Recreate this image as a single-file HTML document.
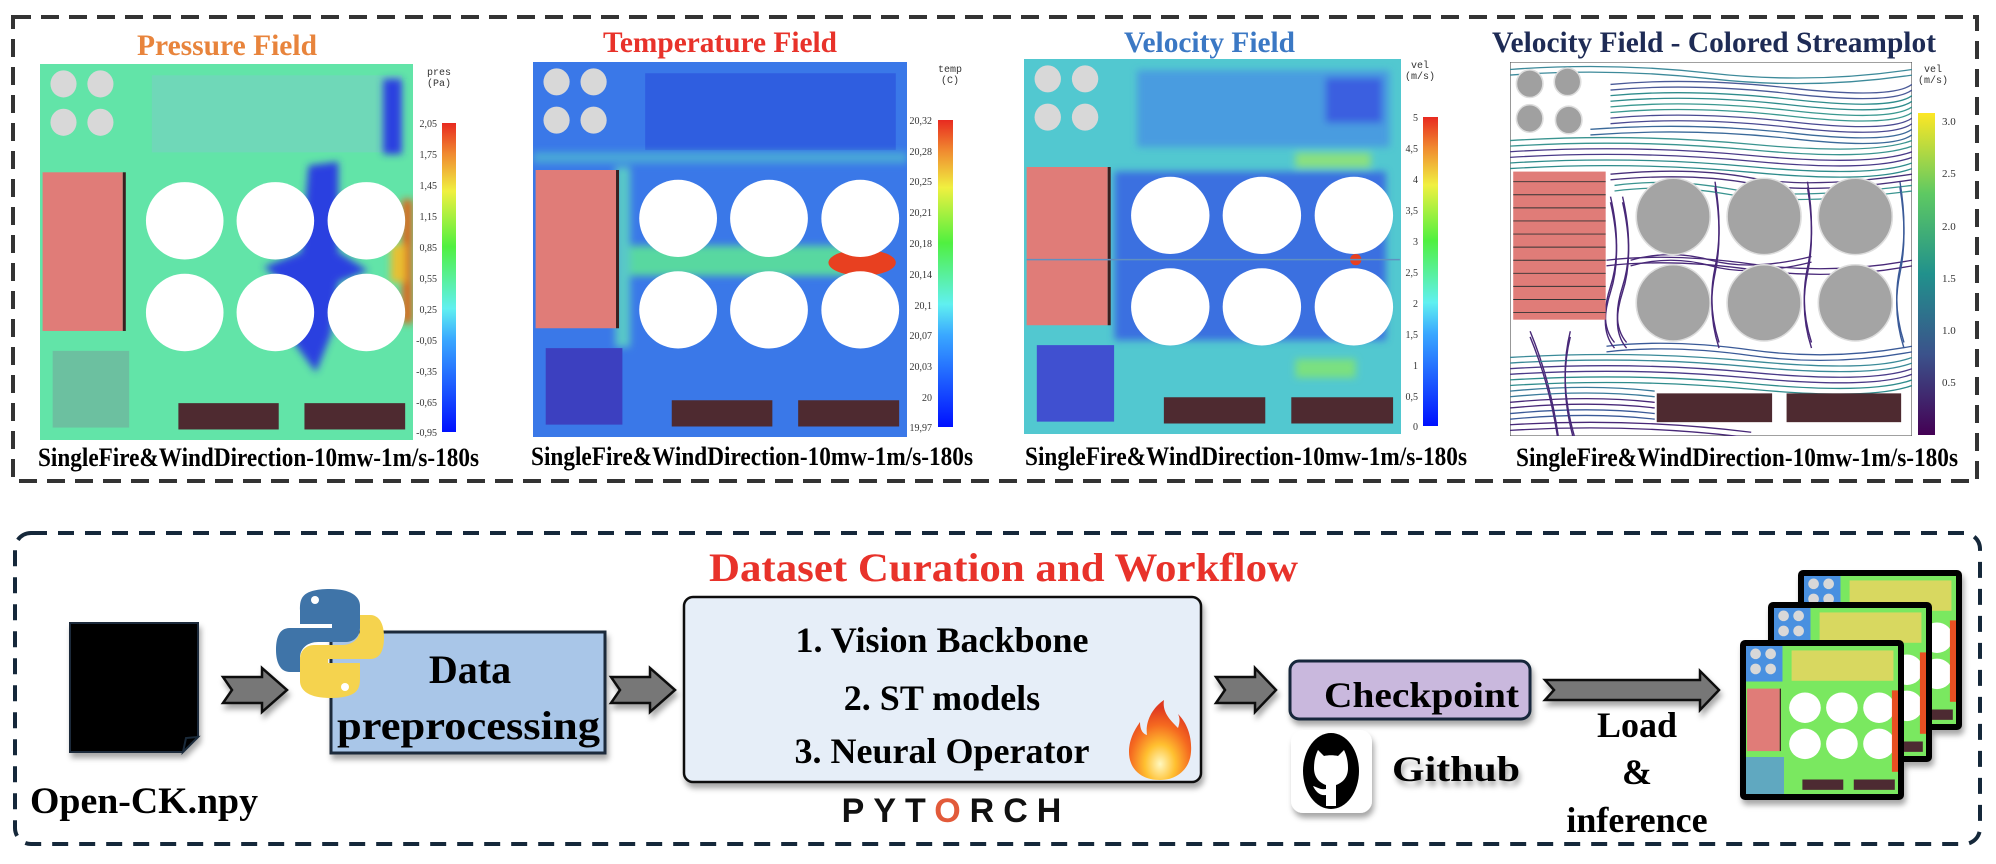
<!DOCTYPE html>
<html><head><meta charset="utf-8"><style>
html,body{margin:0;padding:0;background:#fff;}
svg{display:block;}
text{font-family:"Liberation Serif",serif;font-weight:bold;}
</style></head><body>
<svg width="1996" height="864" viewBox="0 0 1996 864" xmlns="http://www.w3.org/2000/svg">
<defs>
<linearGradient id="jet" x1="0" y1="1" x2="0" y2="0">
<stop offset="0" stop-color="#0010ff"/><stop offset="0.3" stop-color="#3aa8ff"/><stop offset="0.4" stop-color="#60f0f0"/><stop offset="0.6" stop-color="#50f040"/><stop offset="0.78" stop-color="#f0f040"/><stop offset="0.9" stop-color="#f08a30"/><stop offset="1" stop-color="#e82a20"/></linearGradient>
<linearGradient id="vir" x1="0" y1="1" x2="0" y2="0">
<stop offset="0" stop-color="#440154"/><stop offset="0.25" stop-color="#3b528b"/><stop offset="0.5" stop-color="#21918c"/><stop offset="0.75" stop-color="#5ec962"/><stop offset="1" stop-color="#fde725"/></linearGradient>
<filter id="sh" x="-10%" y="-10%" width="130%" height="140%"><feDropShadow dx="2" dy="5" stdDeviation="3" flood-color="#000" flood-opacity="0.35"/></filter>
<filter id="bl"><feGaussianBlur stdDeviation="1"/></filter>
<g id="lay">
<ellipse cx="6.3" cy="5.3" rx="3.5" ry="3.6" fill="#d8d8d8"/><ellipse cx="16.2" cy="5.3" rx="3.5" ry="3.6" fill="#d8d8d8"/>
<ellipse cx="6.3" cy="15.5" rx="3.5" ry="3.6" fill="#d8d8d8"/><ellipse cx="16.2" cy="15.5" rx="3.5" ry="3.6" fill="#d8d8d8"/>
<rect x="0.7" y="28.8" width="21.5" height="42.2" fill="#e07c78"/><rect x="22.2" y="28.8" width="0.8" height="42.2" fill="#3a2020"/>
<g fill="#fff"><ellipse cx="38.8" cy="41.7" rx="10.4" ry="10.3"/><ellipse cx="63.1" cy="41.7" rx="10.4" ry="10.3"/><ellipse cx="87.5" cy="41.7" rx="10.4" ry="10.3"/>
<ellipse cx="38.8" cy="66.1" rx="10.4" ry="10.3"/><ellipse cx="63.1" cy="66.1" rx="10.4" ry="10.3"/><ellipse cx="87.5" cy="66.1" rx="10.4" ry="10.3"/></g>
<rect x="37.1" y="90.2" width="26.9" height="7" fill="#4e2a30"/><rect x="70.9" y="90.2" width="27" height="7" fill="#4e2a30"/>
</g>
<g id="sl" fill="none" stroke-width="0.35">
<path d="M0 2 Q25 0 50 3 T100 2" stroke="#3d8a9a"/><path d="M25 6 Q45 4 70 7 T100 6" stroke="#4a5a98"/><path d="M25 9 Q45 7 70 10 T100 9" stroke="#2f8c8c"/>
<path d="M25 12 Q45 10 70 13 T100 12" stroke="#3a9890"/><path d="M25 15 Q45 13 70 16 T100 15" stroke="#4a4a92"/><path d="M20 18 Q45 16 70 19 T100 18" stroke="#3b6a9a"/>
<path d="M0 21 Q30 19 60 22 T100 21" stroke="#3a9490"/><path d="M0 24 Q30 22 60 25 T100 24" stroke="#4a3a88"/><path d="M0 27 Q30 25 60 28 T100 27" stroke="#2f8c8c"/>
<path d="M25 30 Q45 28 60 31 T100 30" stroke="#48307a"/><path d="M26 33 Q40 31 55 34 T100 33" stroke="#3a9490"/>
<path d="M24 53 Q40 51 60 54 T100 53" stroke="#482878"/><path d="M24 76 Q40 74 60 77 T100 76" stroke="#3a5a98"/><path d="M0 79 Q30 77 60 80 T100 79" stroke="#3a8a98"/>
<path d="M0 82 Q30 80 60 83 T100 82" stroke="#4a3a88"/><path d="M0 85 Q30 83 60 86 T100 85" stroke="#2f8c8c"/><path d="M0 88 Q20 86 36 88" stroke="#3a7a9a"/><path d="M0 91 Q20 89 36 91" stroke="#482878"/><path d="M0 94 Q20 92 36 94" stroke="#3a5a98"/><path d="M0 97 Q30 95 60 99" stroke="#482878"/>
<path d="M25 36 Q28 50 25 60 T26 75" stroke="#482878"/><path d="M28 36 Q31 50 28 60 T29 75" stroke="#482878"/><path d="M51 32 Q53 45 51 55 T52 75" stroke="#482878"/><path d="M74 32 Q76 45 74 55 T75 75" stroke="#482878"/><path d="M97 32 Q99 45 97 55 T98 75" stroke="#3a5a98"/>
<path d="M30 53 Q40 50 50 53 T75 52" stroke="#482878"/><path d="M5 72 Q10 85 12 100" stroke="#482878"/><path d="M15 72 Q12 85 16 100" stroke="#482878"/>
</g>
</defs>

<rect x="13" y="17" width="1964" height="464" fill="none" stroke="#333" stroke-width="4" stroke-dasharray="18 10"/>

<text x="137" y="55" font-size="30" fill="#e8843c" textLength="180" lengthAdjust="spacingAndGlyphs">Pressure Field</text>
<text x="603" y="52" font-size="30" fill="#e8322a" textLength="234" lengthAdjust="spacingAndGlyphs">Temperature Field</text>
<text x="1124" y="52" font-size="30" fill="#3b78c4" textLength="171" lengthAdjust="spacingAndGlyphs">Velocity Field</text>
<text x="1492" y="52" font-size="30" fill="#1e2b55" textLength="444" lengthAdjust="spacingAndGlyphs">Velocity Field - Colored Streamplot</text>

<!-- Pressure -->
<svg x="40" y="64" width="373" height="376" viewBox="0 0 100 100" preserveAspectRatio="none">
<rect width="100" height="100" fill="#62e4a8"/>
<rect x="30" y="3" width="67" height="20.5" fill="#6fd8b8"/>
<g filter="url(#bl)"><path d="M72 27 L80 26 L80 50 L88 55 L80 58 L78 72 L74 82 L68 74 L70 62 L60 54 L70 50 Z" fill="#2a40e0"/><rect x="92" y="4" width="5" height="20" fill="#2a40e0"/><rect x="97" y="36" width="3" height="33" fill="#d86a20"/><rect x="94" y="48" width="4" height="10" fill="#e8c030"/></g>
<rect x="3.4" y="76.3" width="20.5" height="20.4" fill="#6cc0a0"/>
<use href="#lay"/>
</svg>
<rect x="442" y="123" width="14" height="309" fill="url(#jet)"/>
<text x="427" y="75" font-size="10" fill="#333" style="font-weight:normal;font-family:'Liberation Mono',monospace">pres</text><text x="427" y="86" font-size="10" fill="#333" style="font-weight:normal;font-family:'Liberation Mono',monospace">(Pa)</text>
<g font-size="10" fill="#333" style="font-family:'Liberation Sans',sans-serif" text-anchor="end">
<text x="437" y="127" style="font-weight:normal">2,05</text><text x="437" y="158" style="font-weight:normal">1,75</text><text x="437" y="189" style="font-weight:normal">1,45</text><text x="437" y="220" style="font-weight:normal">1,15</text><text x="437" y="251" style="font-weight:normal">0,85</text><text x="437" y="282" style="font-weight:normal">0,55</text><text x="437" y="313" style="font-weight:normal">0,25</text><text x="437" y="344" style="font-weight:normal">-0,05</text><text x="437" y="375" style="font-weight:normal">-0,35</text><text x="437" y="406" style="font-weight:normal">-0,65</text><text x="437" y="436" style="font-weight:normal">-0,95</text></g>
<text x="38" y="466" font-size="26" textLength="441" lengthAdjust="spacingAndGlyphs">SingleFire&amp;WindDirection-10mw-1m/s-180s</text>

<!-- Temperature -->
<svg x="533" y="62" width="374" height="375" viewBox="0 0 100 100" preserveAspectRatio="none">
<rect width="100" height="100" fill="#3a78e8"/>
<rect x="30" y="3" width="67" height="20.5" fill="#2f5ee0"/>
<g filter="url(#bl)"><rect x="22" y="49" width="70" height="8" fill="#58d8a0"/><rect x="22" y="28" width="4" height="48" fill="#58c8c8"/><rect x="0" y="24" width="100" height="3" fill="#4aa8d8"/></g>
<ellipse cx="88" cy="53.5" rx="9" ry="3.5" fill="#e84020"/>
<rect x="3.4" y="76.3" width="20.5" height="20.4" fill="#3c40c0"/>
<use href="#lay"/>
</svg>
<rect x="938" y="120" width="15" height="307" fill="url(#jet)"/>
<g font-size="10" fill="#333" text-anchor="end" style="font-family:'Liberation Sans',sans-serif">
<text x="932" y="124" style="font-weight:normal">20,32</text><text x="932" y="155" style="font-weight:normal">20,28</text><text x="932" y="185" style="font-weight:normal">20,25</text><text x="932" y="216" style="font-weight:normal">20,21</text><text x="932" y="247" style="font-weight:normal">20,18</text><text x="932" y="278" style="font-weight:normal">20,14</text><text x="932" y="309" style="font-weight:normal">20,1</text><text x="932" y="339" style="font-weight:normal">20,07</text><text x="932" y="370" style="font-weight:normal">20,03</text><text x="932" y="401" style="font-weight:normal">20</text><text x="932" y="431" style="font-weight:normal">19,97</text></g>
<text x="950" y="72" font-size="10" fill="#333" text-anchor="middle" style="font-weight:normal;font-family:'Liberation Mono',monospace">temp</text><text x="950" y="83" font-size="10" fill="#333" text-anchor="middle" style="font-weight:normal;font-family:'Liberation Mono',monospace">(C)</text>
<text x="531" y="465" font-size="26" textLength="442" lengthAdjust="spacingAndGlyphs">SingleFire&amp;WindDirection-10mw-1m/s-180s</text>

<!-- Velocity -->
<svg x="1024" y="59" width="377" height="375" viewBox="0 0 100 100" preserveAspectRatio="none">
<rect width="100" height="100" fill="#52c8d0"/>
<g filter="url(#bl)"><rect x="30" y="3" width="67" height="20.5" fill="#4a9ce0"/><rect x="80" y="5" width="15" height="12" fill="#3a5ee0"/><rect x="24" y="30" width="72" height="45" fill="#3a70e0"/><rect x="72" y="80" width="16" height="5" fill="#7ae080"/><rect x="72" y="25" width="20" height="4" fill="#8ae080"/></g>
<rect x="3.4" y="76.3" width="20.5" height="20.4" fill="#4050d0"/>
<use href="#lay"/>
<circle cx="88" cy="53.5" r="1.5" fill="#e84020"/>
<rect x="0.7" y="53.3" width="99" height="0.4" fill="#6090c0"/>
</svg>
<rect x="1423" y="117" width="15" height="309" fill="url(#jet)"/>
<g font-size="10" fill="#333" text-anchor="end" style="font-family:'Liberation Sans',sans-serif">
<text x="1418" y="121" style="font-weight:normal">5</text><text x="1418" y="152" style="font-weight:normal">4,5</text><text x="1418" y="183" style="font-weight:normal">4</text><text x="1418" y="214" style="font-weight:normal">3,5</text><text x="1418" y="245" style="font-weight:normal">3</text><text x="1418" y="276" style="font-weight:normal">2,5</text><text x="1418" y="307" style="font-weight:normal">2</text><text x="1418" y="338" style="font-weight:normal">1,5</text><text x="1418" y="369" style="font-weight:normal">1</text><text x="1418" y="400" style="font-weight:normal">0,5</text><text x="1418" y="430" style="font-weight:normal">0</text></g>
<text x="1420" y="68" font-size="10" fill="#333" text-anchor="middle" style="font-weight:normal;font-family:'Liberation Mono',monospace">vel</text><text x="1420" y="79" font-size="10" fill="#333" text-anchor="middle" style="font-weight:normal;font-family:'Liberation Mono',monospace">(m/s)</text>
<text x="1025" y="465" font-size="26" textLength="442" lengthAdjust="spacingAndGlyphs">SingleFire&amp;WindDirection-10mw-1m/s-180s</text>

<!-- Streamplot -->
<svg x="1510" y="62" width="402" height="374" viewBox="0 0 100 100" preserveAspectRatio="none">
<rect width="100" height="100" fill="#fff" stroke="#555" stroke-width="0.3"/>
<use href="#sl"/><use href="#sl" transform="translate(0 1.5)"/>
<ellipse cx="4.9" cy="5.8" rx="3.3" ry="3.7" fill="#a0a0a0" stroke="#ddd" stroke-width="0.4"/><ellipse cx="14.3" cy="5.3" rx="3.3" ry="3.7" fill="#a0a0a0" stroke="#ddd" stroke-width="0.4"/>
<ellipse cx="4.9" cy="15.1" rx="3.3" ry="3.7" fill="#a0a0a0" stroke="#ddd" stroke-width="0.4"/><ellipse cx="14.6" cy="15.5" rx="3.3" ry="3.7" fill="#a0a0a0" stroke="#ddd" stroke-width="0.4"/>
<rect x="0.8" y="29.3" width="23" height="39.6" fill="#e07c78"/>
<g stroke="#333" stroke-width="0.25"><line x1="0.8" y1="32" x2="23.8" y2="32"/><line x1="0.8" y1="35.5" x2="23.8" y2="35.5"/><line x1="0.8" y1="39" x2="23.8" y2="39"/><line x1="0.8" y1="42.5" x2="23.8" y2="42.5"/><line x1="0.8" y1="46" x2="23.8" y2="46"/><line x1="0.8" y1="49.5" x2="23.8" y2="49.5"/><line x1="0.8" y1="53" x2="23.8" y2="53"/><line x1="0.8" y1="56.5" x2="23.8" y2="56.5"/><line x1="0.8" y1="60" x2="23.8" y2="60"/><line x1="0.8" y1="63.5" x2="23.8" y2="63.5"/><line x1="0.8" y1="67" x2="23.8" y2="67"/></g>
<g fill="#a4a4a4" stroke="#ddd" stroke-width="0.4"><ellipse cx="40.6" cy="41.3" rx="9.2" ry="10.2"/><ellipse cx="63.2" cy="41.3" rx="9.2" ry="10.2"/><ellipse cx="85.9" cy="41.3" rx="9.2" ry="10.2"/><ellipse cx="40.6" cy="64.4" rx="9.2" ry="10.2"/><ellipse cx="63.2" cy="64.4" rx="9.2" ry="10.2"/><ellipse cx="85.9" cy="64.4" rx="9.2" ry="10.2"/></g>
<rect x="36.5" y="88.6" width="28.7" height="7.7" fill="#4e2a30"/><rect x="68.8" y="88.6" width="28.5" height="7.7" fill="#4e2a30"/>
</svg>
<rect x="1918" y="113" width="17" height="322" fill="url(#vir)"/>
<g font-size="11" fill="#333" style="font-family:'Liberation Sans',sans-serif">
<text x="1942" y="125" style="font-weight:normal">3.0</text><text x="1942" y="177" style="font-weight:normal">2.5</text><text x="1942" y="230" style="font-weight:normal">2.0</text><text x="1942" y="282" style="font-weight:normal">1.5</text><text x="1942" y="334" style="font-weight:normal">1.0</text><text x="1942" y="386" style="font-weight:normal">0.5</text></g>
<text x="1933" y="72" font-size="10" fill="#333" text-anchor="middle" style="font-weight:normal;font-family:'Liberation Mono',monospace">vel</text><text x="1933" y="83" font-size="10" fill="#333" text-anchor="middle" style="font-weight:normal;font-family:'Liberation Mono',monospace">(m/s)</text>
<text x="1516" y="466" font-size="26" textLength="442" lengthAdjust="spacingAndGlyphs">SingleFire&amp;WindDirection-10mw-1m/s-180s</text>

<!-- bottom box -->
<rect x="15" y="533" width="1965" height="311" rx="16" fill="none" stroke="#15283a" stroke-width="4" stroke-dasharray="16 11"/>
<text x="709" y="581" font-size="40" fill="#e8322a" textLength="589" lengthAdjust="spacingAndGlyphs">Dataset Curation and Workflow</text>

<path d="M70 623 H198 V737 L183 752 H70 Z" fill="#000" stroke="#1a2a3a" stroke-width="2" filter="url(#sh)"/>
<path d="M198 737 L183 752 L186 738 Z" fill="#000" stroke="#1a2a3a" stroke-width="2"/>
<text x="30" y="813" font-size="37" textLength="228" lengthAdjust="spacingAndGlyphs">Open-CK.npy</text>

<g fill="#777" stroke="#111" stroke-width="2.5" filter="url(#sh)">
<polygon points="223,677 262,677 262,668 287,690 262,712 262,703 223,703 232,690"/>
<polygon points="611,677 650,677 650,668 675,690 650,712 650,703 611,703 620,690"/>
<polygon points="1216,677 1255,677 1255,668 1276,690 1255,712 1255,703 1216,703 1225,690"/>
<polygon points="1545,680 1700,680 1700,671 1719,690 1700,710 1700,700 1545,700 1554,690"/>
</g>

<rect x="331" y="632" width="274" height="121" fill="#a9c6e8" stroke="#1a2a3a" stroke-width="3" filter="url(#sh)"/>
<text x="470" y="683" font-size="40" text-anchor="middle">Data</text>
<text x="337" y="739" font-size="40" textLength="263" lengthAdjust="spacingAndGlyphs">preprocessing</text>
<g>
<path d="M330 589 C300 589 300 600 300 610 V624 H332 V628 H290 C278 628 276 640 276 650 C276 662 280 672 290 672 H300 V658 C300 648 308 642 318 642 H346 C354 642 360 636 360 628 V606 C360 596 350 589 330 589 Z" fill="#3f74a8"/>
<path d="M330 698 C360 698 360 687 360 677 V663 H328 V659 H370 C382 659 384 647 384 637 C384 625 380 615 370 615 H360 V629 C360 639 352 645 342 645 H314 C306 645 300 651 300 659 V681 C300 691 310 698 330 698 Z" fill="#f5d34e"/>
<circle cx="315" cy="600" r="4" fill="#fff"/><circle cx="345" cy="687" r="4" fill="#fff"/>
</g>

<rect x="684" y="597" width="517" height="185" rx="9" fill="#e6eef8" stroke="#111" stroke-width="2.5" filter="url(#sh)"/>
<text x="942" y="652" font-size="36" text-anchor="middle">1. Vision Backbone</text>
<text x="942" y="710" font-size="36" text-anchor="middle">2. ST models</text>
<text x="942" y="763" font-size="36" text-anchor="middle">3. Neural Operator</text>
<defs><radialGradient id="fire" cx="0.5" cy="0.8" r="0.7"><stop offset="0" stop-color="#fff8c0"/><stop offset="0.35" stop-color="#ffc030"/><stop offset="0.7" stop-color="#f56a20"/><stop offset="1" stop-color="#e03a20"/></radialGradient></defs>
<path d="M1160 780 C1140 780 1129 768 1129 752 C1129 738 1136 728 1140 722 C1140 730 1143 734 1147 735 C1145 722 1152 708 1164 700 C1162 712 1170 720 1178 728 C1180 722 1180 718 1178 714 C1188 724 1192 738 1191 752 C1190 768 1178 780 1160 780 Z" fill="url(#fire)"/>
<text x="956" y="822" font-size="34" text-anchor="middle" letter-spacing="9" style="font-family:'Liberation Sans',sans-serif;font-weight:bold" fill="#111">PYT<tspan fill="#e25a3a">O</tspan>RCH</text>

<rect x="1290" y="661" width="240" height="58" rx="9" fill="#c9b8dd" stroke="#15283a" stroke-width="3" filter="url(#sh)"/>
<text x="1324" y="707" font-size="36" textLength="195" lengthAdjust="spacingAndGlyphs">Checkpoint</text>
<rect x="1291" y="730" width="81" height="83" rx="12" fill="#fff" filter="url(#sh)"/>
<ellipse cx="1331" cy="771" rx="28" ry="38" fill="#000"/>
<path d="M1314 768 C1314 760 1316 754 1318 750 L1324 756 C1328 755 1334 755 1338 756 L1344 750 C1346 754 1348 760 1348 768 C1348 778 1342 783 1336 785 V806 H1326 V795 C1320 796 1316 792 1313 786 C1317 787 1320 790 1326 789 V785 C1320 783 1314 778 1314 768 Z" fill="#fff"/>
<text x="1392" y="781" font-size="36" textLength="128" lengthAdjust="spacingAndGlyphs" filter="url(#sh)">Github</text>

<text x="1637" y="737" font-size="36" text-anchor="middle">Load</text>
<text x="1637" y="784" font-size="36" text-anchor="middle">&amp;</text>
<text x="1637" y="832" font-size="36" text-anchor="middle">inference</text>

<g filter="url(#sh)">
<rect x="1798" y="570" width="164" height="160" rx="5" fill="#000"/>
<svg x="1804" y="576" width="152" height="148" viewBox="0 0 100 100" preserveAspectRatio="none"><rect width="100" height="100" fill="#7ae860"/><rect x="30" y="3" width="67" height="20.5" fill="#d8d860"/><rect x="0" y="0" width="24" height="24" fill="#4a90e0"/><use href="#lay"/><rect x="96" y="30" width="4" height="55" fill="#e85020"/></svg>
<rect x="1768" y="602" width="164" height="160" rx="5" fill="#000"/>
<svg x="1774" y="608" width="152" height="148" viewBox="0 0 100 100" preserveAspectRatio="none"><rect width="100" height="100" fill="#7ae860"/><rect x="30" y="3" width="67" height="20.5" fill="#d8d860"/><rect x="0" y="0" width="24" height="24" fill="#4a90e0"/><use href="#lay"/><rect x="96" y="30" width="4" height="55" fill="#e85020"/></svg>
<rect x="1740" y="640" width="164" height="160" rx="5" fill="#000"/>
<svg x="1746" y="646" width="152" height="148" viewBox="0 0 100 100" preserveAspectRatio="none"><rect width="100" height="100" fill="#7ae860"/><rect x="30" y="3" width="67" height="20.5" fill="#d8d860"/><rect x="0" y="0" width="24" height="24" fill="#4a90e0"/><rect x="0" y="75" width="25" height="25" fill="#60a8c0"/><use href="#lay"/><rect x="96" y="30" width="4" height="55" fill="#e85020"/></svg>
</g>
</svg>
</body></html>
